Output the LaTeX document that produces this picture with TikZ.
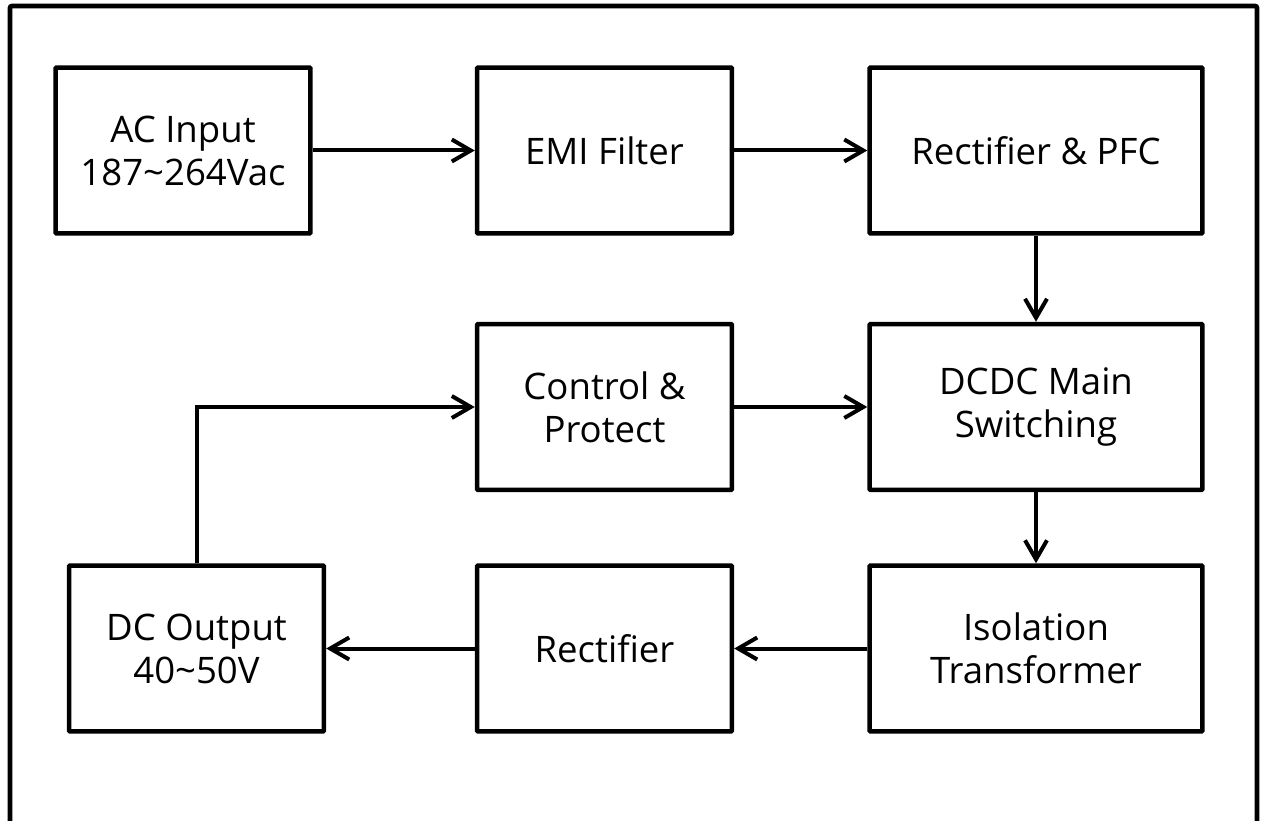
\documentclass[tikz,border=0pt]{standalone}
\usepackage{fontspec}
\setmainfont{Open Sans}
\usetikzlibrary{arrows.meta}

\begin{document}
\begin{tikzpicture}[x=0.02cm,y=-0.02cm,
  block/.style={draw=black,line width=0.09cm,rounded corners=0.02cm,fill=white,align=center,
    minimum height=3.32cm,inner sep=0pt,font=\fontsize{20.8}{24.5}\selectfont},
  narrow/.style={block,minimum width=5.1cm},
  wide/.style={block,minimum width=6.66cm},
  flow/.style={line width=0.08cm,-{Straight Barb[length=0.38cm,width=0.44cm]}}]
\useasboundingbox (0,0) rectangle (1262,821);
\draw[line width=0.094cm,rounded corners=0.04cm] (10,6) rectangle (1257,826);

% top row
\node[narrow] (acin) at (183,150.5) {AC Input\\187\textasciitilde264Vac};
\node[narrow] (emi) at (604.5,150.5) {EMI Filter};
\node[wide] (pfc) at (1036,150.5) {Rectifier \& PFC};

% middle row
\node[narrow] (ctrl) at (604.5,407) {Control \&\\Protect};
\node[wide] (dcdc) at (1036,407) {DCDC Main\\Switching};

% bottom row
\node[narrow] (dcout) at (196.5,648.5) {DC Output\\40\textasciitilde50V};
\node[narrow] (rect) at (604.5,648.5) {Rectifier};
\node[wide] (iso) at (1036,648.5) {Isolation\\Transformer};

\draw[flow] (acin) -- (emi);
\draw[flow] (emi) -- (pfc);
\draw[flow] (pfc) -- (dcdc);
\draw[flow] (ctrl) -- (dcdc);
\draw[flow] (dcdc) -- (iso);
\draw[flow] (iso) -- (rect);
\draw[flow] (rect) -- (dcout);
\draw[flow] (dcout.north) |- (ctrl.west);
\end{tikzpicture}
\end{document}
